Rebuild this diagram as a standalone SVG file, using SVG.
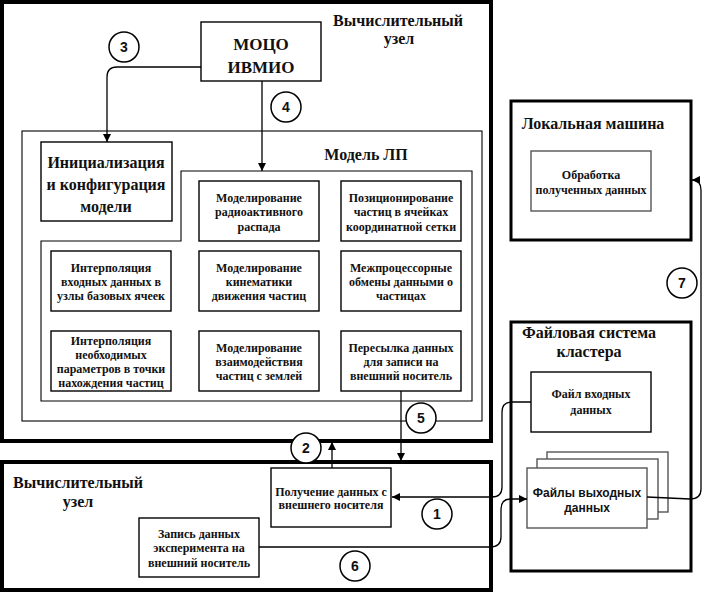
<svg xmlns="http://www.w3.org/2000/svg" width="710" height="595" viewBox="0 0 710 595">
<style>
.bg{fill:#fff}
.node{fill:none;stroke:#000;stroke-width:1.4}
.thick{fill:none;stroke:#000;stroke-width:4}
.med{fill:none;stroke:#000;stroke-width:3}
.thin{fill:none;stroke:#000;stroke-width:1.1}
.gray{fill:#fff;stroke:#555;stroke-width:1.4}
.t{font-family:"Liberation Serif","Times New Roman",serif;font-weight:bold;font-size:12px;text-anchor:middle;fill:#111}
.title{font-family:"Liberation Serif","Times New Roman",serif;font-weight:bold;font-size:16px;text-anchor:middle;fill:#111}
.big{font-family:"Liberation Serif","Times New Roman",serif;font-weight:bold;font-size:17px;text-anchor:middle;fill:#111}
.mid{font-family:"Liberation Serif","Times New Roman",serif;font-weight:bold;font-size:16px;text-anchor:middle;fill:#111}
.sans{font-family:"Liberation Sans",Arial,sans-serif;font-weight:bold;font-size:12px;text-anchor:middle;fill:#111}
.num circle{fill:#fff;stroke:#000;stroke-width:1.5}
.num text{font-family:"Liberation Sans",Arial,sans-serif;font-weight:bold;font-size:14px;text-anchor:middle;fill:#111}
.conn path{fill:none;stroke:#000;stroke-width:1.3}
</style>
<defs>
<marker id="ah" viewBox="0 0 10 10" refX="10" refY="5" markerWidth="8" markerHeight="8" markerUnits="userSpaceOnUse" orient="auto">
<path d="M0,0 L10,5 L0,10 Z" fill="#000"/>
</marker>
</defs>
<rect x="0" y="0" width="710" height="595" class="bg"/>

<g id="node-top">
<rect class="thick" x="2" y="2" width="489" height="439"/>
<text class="title" x="398" y="26">Вычислительный</text>
<text class="title" x="399" y="44">узел</text>
</g>
<g id="node-moco">
<rect class="node" x="201" y="22" width="120" height="59"/>
<text class="big" x="261" y="50">МОЦО</text>
<text class="big" x="261" y="73">ИВМИО</text>
</g>
<g id="node-model">
<rect class="thin" x="22" y="131" width="460" height="290"/>
<text class="title" x="366" y="160">Модель ЛП</text>
<path class="thin" d="M181,241 V171 H472 V401 H41 V241 Z"/>
</g>
<g id="node-init">
<rect class="node" x="41" y="142" width="131" height="79"/>
<text class="mid" x="106" y="168">Инициализация</text>
<text class="mid" x="106" y="190">и конфигурация</text>
<text class="mid" x="106" y="212">модели</text>
</g>
<g id="node-r1c2">
<rect class="node" x="199" y="181" width="120" height="60"/>
<text class="t" x="259" y="202">Моделирование</text>
<text class="t" x="259" y="216">радиоактивного</text>
<text class="t" x="259" y="231">распада</text>
</g>
<g id="node-r1c3">
<rect class="node" x="341" y="181" width="120" height="60"/>
<text class="t" x="401" y="202">Позиционирование</text>
<text class="t" x="401" y="216">частиц в ячейках</text>
<text class="t" x="401" y="231">координатной сетки</text>
</g>
<g id="node-r2c1">
<rect class="node" x="51" y="251" width="120" height="60"/>
<text class="t" x="111" y="272">Интерполяция</text>
<text class="t" x="111" y="286">входных данных в</text>
<text class="t" x="111" y="300">узлы базовых ячеек</text>
</g>
<g id="node-r2c2">
<rect class="node" x="199" y="251" width="120" height="60"/>
<text class="t" x="259" y="272">Моделирование</text>
<text class="t" x="259" y="286">кинематики</text>
<text class="t" x="259" y="300">движения частиц</text>
</g>
<g id="node-r2c3">
<rect class="node" x="341" y="251" width="120" height="60"/>
<text class="t" x="401" y="272">Межпроцессорные</text>
<text class="t" x="401" y="286">обмены данными о</text>
<text class="t" x="401" y="300">частицах</text>
</g>
<g id="node-r3c1">
<rect class="node" x="51" y="331" width="120" height="60"/>
<text class="t" x="111" y="345">Интерполяция</text>
<text class="t" x="111" y="359">необходимых</text>
<text class="t" x="111" y="373">параметров в точки</text>
<text class="t" x="111" y="387">нахождения частиц</text>
</g>
<g id="node-r3c2">
<rect class="node" x="199" y="331" width="120" height="60"/>
<text class="t" x="259" y="352">Моделирование</text>
<text class="t" x="259" y="366">взаимодействия</text>
<text class="t" x="259" y="380">частиц с землей</text>
</g>
<g id="node-r3c3">
<rect class="node" x="341" y="331" width="120" height="60"/>
<text class="t" x="401" y="352">Пересылка данных</text>
<text class="t" x="401" y="366">для записи на</text>
<text class="t" x="401" y="380">внешний носитель</text>
</g>

<g id="node-bottom">
<rect class="thick" x="2" y="462" width="489" height="128"/>
<text class="title" x="78" y="488">Вычислительный</text>
<text class="title" x="78" y="507">узел</text>
</g>
<g id="node-receive">
<rect class="node" x="271" y="468" width="120" height="59"/>
<text class="t" x="331" y="496">Получение данных с</text>
<text class="t" x="331" y="509">внешнего носителя</text>
</g>
<g id="node-write">
<rect class="node" x="139" y="518" width="120" height="59"/>
<text class="t" x="199" y="538">Запись данных</text>
<text class="t" x="199" y="552">эксперимента на</text>
<text class="t" x="199" y="567">внешний носитель</text>
</g>

<g id="node-local">
<rect class="med" x="511" y="101" width="180" height="139"/>
<text class="title" x="593" y="129">Локальная машина</text>
<rect class="gray" x="531" y="151" width="120" height="60" style="fill:none"/>
<text class="t" x="591" y="179">Обработка</text>
<text class="t" x="591" y="194">полученных данных</text>
</g>

<g id="node-fs">
<rect class="med" x="511" y="322" width="180" height="249"/>
<text class="title" x="589" y="338">Файловая система</text>
<text class="title" x="589" y="357">кластера</text>
<rect class="node" x="531" y="372" width="120" height="60"/>
<text class="t" x="591" y="398">Файл входных</text>
<text class="t" x="591" y="414">данных</text>
</g>
<g id="node-out">
<rect class="gray" x="547" y="452" width="121" height="60"/>
<rect class="gray" x="537" y="459" width="121" height="60"/>
<rect class="gray" x="527" y="468" width="120" height="60"/>
<text class="sans" x="587" y="497">Файлы выходных</text>
<text class="sans" x="587" y="512">данных</text>
</g>

<g id="connectors" class="conn">
<path d="M201,67 H117 Q107,67 107,77 V142" marker-end="url(#ah)"/>
<path d="M262,81 V171" marker-end="url(#ah)"/>
<path d="M401,391 V461" marker-end="url(#ah)"/>
<path d="M332,468 V442" marker-end="url(#ah)"/>
<path d="M531,402 H512 Q502,402 502,412 V487 Q502,497 492,497 H392" marker-end="url(#ah)"/>
<path d="M259,547 H490 Q501,547 501,537 V509 Q501,499 511,499 H527" marker-end="url(#ah)"/>
<path d="M647,497 L690,499 Q701,499 701,489 V190 Q701,180 692,180" marker-end="url(#ah)"/>
</g>

<g id="labels" class="num">
<g><circle cx="124" cy="47" r="15"/><text x="124" y="52">3</text></g>
<g><circle cx="286" cy="107" r="15"/><text x="286" y="112">4</text></g>
<g><circle cx="421" cy="418" r="15"/><text x="421" y="423">5</text></g>
<g><circle cx="306" cy="448" r="15"/><text x="306" y="453">2</text></g>
<g><circle cx="437" cy="514" r="15"/><text x="437" y="519">1</text></g>
<g><circle cx="355" cy="566" r="15"/><text x="355" y="571">6</text></g>
<g><circle cx="682" cy="283" r="15"/><text x="682" y="288">7</text></g>
</g>
</svg>
